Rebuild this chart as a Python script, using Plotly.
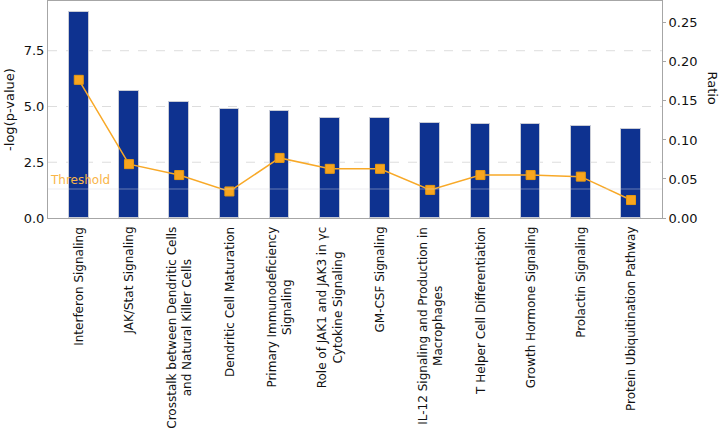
import plotly.graph_objects as go

categories = [
    "Interferon Signaling",
    "JAK/Stat Signaling",
    "Crosstalk between Dendritic Cells<br>and Natural Killer Cells",
    "Dendritic Cell Maturation",
    "Primary Immunodeficiency<br>Signaling",
    "Role of JAK1 and JAK3 in γc<br>Cytokine Signaling",
    "GM-CSF Signaling",
    "IL-12 Signaling and Production in<br>Macrophages",
    "T Helper Cell Differentiation",
    "Growth Hormone Signaling",
    "Prolactin Signaling",
    "Protein Ubiquitination Pathway",
]
neg_log_p = [9.24, 5.70, 5.19, 4.90, 4.82, 4.49, 4.48, 4.27, 4.23, 4.23, 4.14, 3.99]
ratio = [0.177, 0.069, 0.055, 0.034, 0.077, 0.063, 0.063, 0.036, 0.055, 0.055, 0.053, 0.023]
threshold = 1.3
left_ticks = [0, 2.5, 5.0, 7.5]
right_ticks = [0, 0.05, 0.10, 0.15, 0.20, 0.25]

FONT = "DejaVu Sans"
x_idx = list(range(len(categories)))

fig = go.Figure()
fig.add_trace(go.Bar(
    x=x_idx, y=neg_log_p, width=0.39,
    marker=dict(color="#0e3290", line=dict(color="#c9ccd6", width=1)),
    showlegend=False,
))
fig.add_trace(go.Scatter(
    x=x_idx, y=ratio, yaxis="y2", mode="lines+markers",
    line=dict(color="#f8a928", width=1.5),
    marker=dict(symbol="square", size=9, color="#f8a51f", line=dict(color="#e89a10", width=1)),
    showlegend=False,
))

# gridlines (dashed) on left axis
for v in left_ticks[1:]:
    fig.add_shape(type="line", xref="paper", x0=0, x1=1, yref="y", y0=v, y1=v,
                  line=dict(color="#dddddd", width=1, dash="dash"), layer="below")
# threshold line
fig.add_shape(type="line", xref="paper", x0=0, x1=1, yref="y", y0=threshold, y1=threshold,
              line=dict(color="rgba(215,215,225,0.45)", width=1), layer="above")
fig.add_annotation(text="Threshold", xref="paper", x=0.0, xanchor="left",
                   yref="y", y=threshold, yanchor="bottom", showarrow=False,
                   font=dict(family=FONT, size=12, color="#f9b548"))

# category labels
for i, c in enumerate(categories):
    fig.add_annotation(text=c, x=i, xref="x", y=-0.03, yref="paper",
                       yanchor="top", xanchor="center", textangle=-90, align="center",
                       showarrow=False, font=dict(family=FONT, size=12, color="#111111"))

fig.add_annotation(text="Ratio", xref="paper", x=1.082, xanchor="center", yref="paper", y=0.6,
                   yanchor="middle", textangle=90, showarrow=False,
                   font=dict(family=FONT, size=13, color="#111111"))

fig.update_layout(
    width=722, height=433,
    margin=dict(l=48, r=60, t=1, b=215, autoexpand=False),
    paper_bgcolor="white", plot_bgcolor="white",
    font=dict(family=FONT, size=13, color="#111111"),
    xaxis=dict(range=[-0.613, 11.617], showticklabels=False, showgrid=False, zeroline=False,
               showline=True, linecolor="#a6a6a6", linewidth=1, mirror=True, ticks="",
               automargin=False),
    yaxis=dict(range=[0, 9.73], tickvals=left_ticks, ticktext=["0.0", "2.5", "5.0", "7.5"],
               showgrid=False, zeroline=False, showline=True, linecolor="#a6a6a6", linewidth=1,
               ticks="", automargin=False,
               title=dict(text="-log(p-value)", standoff=6, font=dict(size=13))),
    yaxis2=dict(range=[0, 0.278], overlaying="y", side="right", tickvals=right_ticks,
                ticktext=["0.00", "0.05", "0.10", "0.15", "0.20", "0.25"],
                showgrid=False, zeroline=False, showline=True, linecolor="#a6a6a6", linewidth=1,
                ticks="outside", ticklen=3, tickcolor="#a6a6a6", automargin=False),
    bargap=0,
)

fig.write_html("out.html", config={"displayModeBar": False},
               post_script="document.body.style.margin='0';")
